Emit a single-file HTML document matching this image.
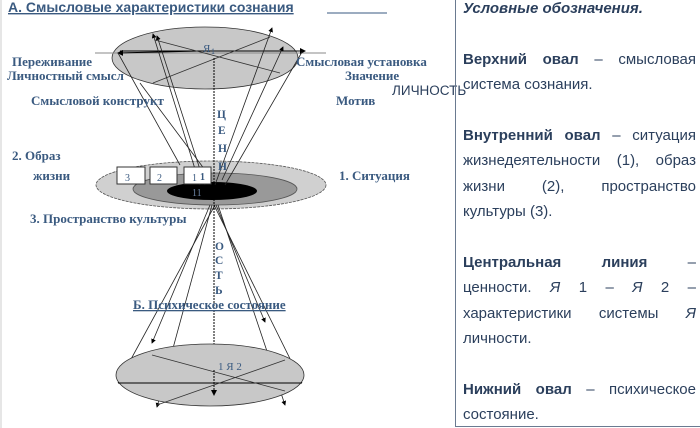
<!DOCTYPE html>
<html><head><meta charset="utf-8"><style>
body{margin:0;width:700px;height:428px;background:#fff;overflow:hidden;position:relative;font-family:"Liberation Sans",sans-serif}
.panel{position:absolute;left:455px;top:-4px;width:245px;height:431px;border-left:1px solid #6a7a90;border-bottom:1px solid #6a7a90;box-sizing:border-box;padding:0 4px 0 7px;color:#2b3f5c;font-family:"Liberation Sans",sans-serif;font-size:15px;line-height:25.4px}
.panel div{height:25.4px;white-space:nowrap}
.j{text-align:justify;text-align-last:justify}
</style></head><body>
<svg width="700" height="428" style="position:absolute;left:0;top:0" font-family="Liberation Serif,serif">
<defs><marker id="a" markerWidth="6" markerHeight="6" refX="5" refY="3" orient="auto"><path d="M0,0L6,3L0,6z" fill="#000"/></marker></defs>
<line x1="1" y1="0" x2="1" y2="428" stroke="#ccc"/>
<text x="8" y="12" font-family="Liberation Sans,sans-serif" font-weight="bold" font-size="14" fill="#3a5a80" text-decoration="underline">А. Смысловые  характеристики  сознания</text>
<line x1="327" y1="13" x2="387" y2="13" stroke="#3a5a80"/>
<ellipse cx="205" cy="58" rx="93" ry="31" fill="#c8c8c8" stroke="#333" stroke-width="0.8"/>
<line x1="95" y1="53" x2="326" y2="53" stroke="#888"/>
<line x1="120" y1="51" x2="305" y2="51" stroke="#000" marker-end="url(#a)"/>
<line x1="200" y1="51" x2="118" y2="53" stroke="#000" marker-end="url(#a)"/>
<line x1="155" y1="40" x2="280" y2="73" stroke="#333" stroke-width="0.8"/>
<line x1="153" y1="83" x2="270" y2="37" stroke="#333" stroke-width="0.8"/>
<ellipse cx="211" cy="185" rx="115" ry="24" fill="#d0d0d0" stroke="#555" stroke-width="0.8" stroke-dasharray="3,1"/>
<ellipse cx="215" cy="189" rx="82" ry="16" fill="#999" stroke="#555" stroke-width="0.8"/>
<ellipse cx="212" cy="191" rx="45" ry="9" fill="#000"/>
<g stroke="#222" stroke-width="0.8" fill="none">
<line x1="200" y1="185" x2="153" y2="34" marker-end="url(#a)"/>
<line x1="205" y1="185" x2="157" y2="36" marker-end="url(#a)"/>
<line x1="180" y1="165" x2="118" y2="53"/>
<line x1="215" y1="185" x2="272" y2="28" marker-end="url(#a)"/>
<line x1="222" y1="180" x2="283" y2="47" marker-end="url(#a)"/>
<line x1="225" y1="185" x2="302" y2="52"/>
<line x1="140" y1="83" x2="205" y2="170"/>
<line x1="210" y1="205" x2="152" y2="343" marker-end="url(#a)"/>
<line x1="215" y1="205" x2="118" y2="383"/>
<line x1="212" y1="205" x2="157" y2="407" marker-end="url(#a)"/>
<line x1="216" y1="205" x2="265" y2="322" marker-end="url(#a)"/>
<line x1="218" y1="205" x2="285" y2="405" marker-end="url(#a)"/>
<line x1="214" y1="205" x2="302" y2="383"/>
</g>
<line x1="214" y1="58" x2="214" y2="395" stroke="#000" stroke-dasharray="2,1" marker-end="url(#a)"/>
<ellipse cx="210" cy="375" rx="94" ry="31" fill="#c8c8c8" stroke="#333" stroke-width="0.8"/>
<line x1="118" y1="383" x2="302" y2="383" stroke="#000"/>
<line x1="152" y1="355" x2="285" y2="391" stroke="#333" stroke-width="0.8"/>
<line x1="157" y1="405" x2="285" y2="360" stroke="#333" stroke-width="0.8"/>
<line x1="214" y1="370" x2="214" y2="395" stroke="#000" stroke-dasharray="2,1" marker-end="url(#a)"/>
<g fill="#fff" stroke="#333"><rect x="117" y="167" width="28" height="17"/><rect x="150" y="167" width="27" height="17"/><rect x="184" y="167" width="27" height="17"/></g>
<g font-size="10" fill="#3a5a80"><text x="125" y="181">3</text><text x="157" y="181">2</text><text x="192" y="181">1</text><text x="200" y="180" font-weight="bold">1</text><text x="192" y="196" fill="#6a80a0">11</text><text x="203" y="52" font-size="11">Я</text><text x="211" y="54" font-size="8">1</text><text x="218" y="370" font-size="11">1 Я 2</text></g>
<g font-size="13" font-weight="bold" fill="#3a5a80">
<text x="12" y="66">Переживание</text><text x="7" y="80">Личностный смысл</text><text x="31" y="105">Смысловой конструкт</text>
<text x="296" y="66">Смысловая установка</text><text x="345" y="80">Значение</text><text x="336" y="105">Мотив</text>
<text x="12" y="160">2. Образ</text><text x="33" y="180">жизни</text><text x="339" y="180">1. Ситуация</text>
<text x="30" y="223">3. Пространство культуры</text>
<text x="133" y="309" text-decoration="underline">Б. Психическое состояние</text>
<g font-size="11.5"><text x="217" y="118">Ц</text><text x="218" y="134">Е</text><text x="218" y="152">Н</text><text x="218" y="170">Н</text>
<text x="215" y="250">О</text><text x="215" y="264">С</text><text x="215" y="279">Т</text><text x="215" y="294">Ь</text></g>
</g>
<text x="392" y="95" font-family="Liberation Sans,sans-serif" font-size="13.5" fill="#2b3f5c">ЛИЧНОСТЬ</text>
</svg>
<div class="panel">
<div><b><i>Условные обозначения.</i></b></div>
<div></div>
<div class="j"><b>Верхний овал</b> – смысловая</div>
<div>система сознания.</div>
<div></div>
<div class="j"><b>Внутренний овал</b> – ситуация</div>
<div class="j">жизнедеятельности (1), образ</div>
<div class="j">жизни (2), пространство</div>
<div>культуры (3).</div>
<div></div>
<div class="j"><b>Центральная линия</b> –</div>
<div class="j">ценности. <i>Я</i> 1 – <i>Я</i> 2 –</div>
<div class="j">характеристики системы <i>Я</i></div>
<div>личности.</div>
<div></div>
<div class="j"><b>Нижний овал</b> – психическое</div>
<div>состояние.</div>
</div>
</body></html>
